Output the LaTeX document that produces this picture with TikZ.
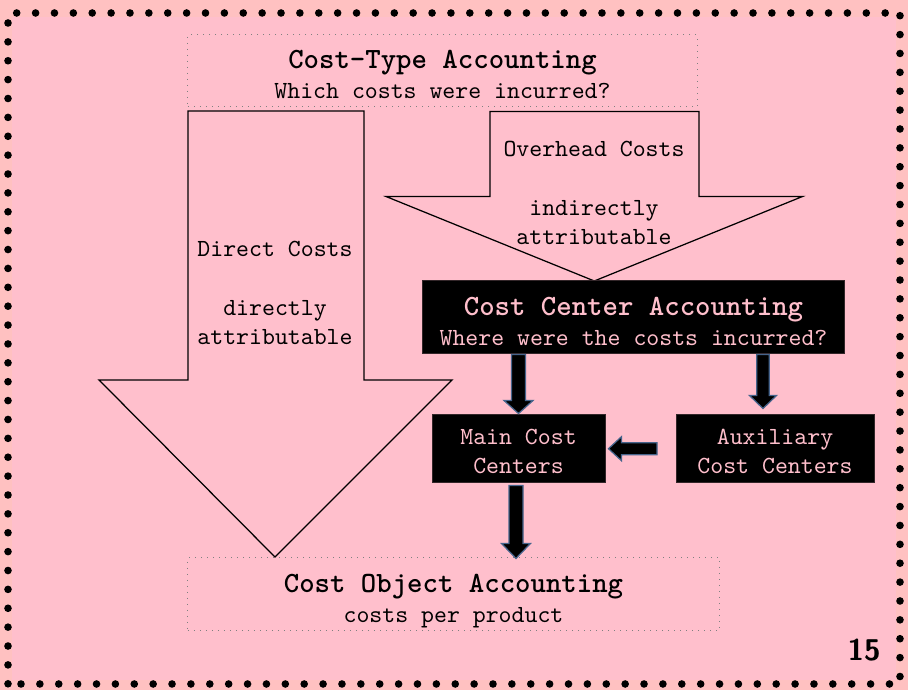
\documentclass[tikz,border=0pt]{standalone}
\usetikzlibrary{calc}
\definecolor{pagepink}{RGB}{255,191,204}
\definecolor{rimpink}{RGB}{255,193,193}
\definecolor{arrowrim}{RGB}{70,100,140}
\newcommand\titlefont{\fontsize{11.75}{14}\selectfont\bfseries}
\begin{document}
\begin{tikzpicture}[x=0.4pt,y=-0.4pt,
  txt/.style={font=\fontsize{9.85}{11.8}\selectfont\ttfamily, align=center, inner sep=0pt},
  dotbox/.style={draw=gray, dotted, line width=0.4pt, inner sep=0pt},
  blackbox/.style={fill=black, draw=black!80!pagepink, line width=0.4pt, inner sep=0pt},
  hollow/.style={draw=black, line width=0.5pt, line join=miter},
  blk/.style={fill=black, draw=arrowrim, line width=0.5pt, line join=miter}]
  % page and dotted frame
  \useasboundingbox (0,0) rectangle (908,690);
  \fill[rimpink] (0,0) rectangle (908,690);
  \fill[pagepink] (12,17) rectangle (896,680);
  \foreach \k in {0,...,46} {
    \fill (16.7+18.88*\k,13) circle[radius=3.8];
    \fill (21+18.88*\k,684) circle[radius=3.8];
  }
  \foreach \k in {0,...,35} {
    \fill (900,15.7+18.88*\k) circle[radius=3.8];
    \fill (8,23+18.88*\k) circle[radius=3.8];
  }

  % outline arrows (direct / overhead costs)
  \draw[hollow] (188,111) -- (364,111) -- (364,380) -- (452,380) -- (275,557)
    -- (99,380) -- (188,380) -- cycle;
  \draw[hollow] (490,111.5) -- (699,111.5) -- (699,196.5) -- (802.5,196.5) -- (594.3,281)
    -- (386,196.5) -- (490,196.5) -- cycle;
  \node[txt] (direct) at (275,293) {Direct Costs\\[11.8pt]directly\\attributable};
  \node[txt] (overhead) at (594,193) {Overhead Costs\\[11.8pt]indirectly\\attributable};

  % accounting stages
  \node[dotbox, minimum width=203.6pt, minimum height=28.8pt] (ctype) at (442.5,71) {};
  \node[dotbox, minimum width=212.4pt, minimum height=29.4pt] (cobj) at (453.5,594.2) {};
  \node[blackbox, minimum width=168.4pt, minimum height=29.2pt] (ccenter) at (633.5,317.5) {};
  \node[blackbox, minimum width=69.2pt, minimum height=27pt] (main) at (518.5,448.7) {};
  \node[blackbox, minimum width=79.2pt, minimum height=27pt] (aux) at (775,448.7) {};

  \node[txt] (ctypetext) at ($(ctype.center)+(0,3.5)$)
    {{\titlefont Cost-Type Accounting}\\Which costs were incurred?};
  \node[txt] (cobjtext) at ($(cobj.center)+(0,7)$)
    {{\titlefont Cost Object Accounting}\\costs per product};
  \node[txt, text=pagepink] (ccentertext) at ($(ccenter.center)+(0,4)$)
    {{\titlefont Cost Center Accounting}\\Where were the costs incurred?};
  \node[txt, text=pagepink] (maintext) at ($(main.center)+(0,3)$) {Main Cost\\Centers};
  \node[txt, text=pagepink] (auxtext) at ($(aux.center)+(0,3)$) {Auxiliary\\Cost Centers};

  % block arrows between the stages
  \coordinate (a1) at (ccenter.south -| main.center);
  \draw[blk] ($(a1)+(-7,0)$) -- ($(a1)+(-7,46)$) -- ($(a1)+(-14.5,46)$) -- ($(a1)+(0,59)$)
    -- ($(a1)+(14.5,46)$) -- ($(a1)+(7,46)$) -- ($(a1)+(7,0)$) -- cycle;
  \coordinate (a2) at ($(ccenter.south)+(129.5,0)$);
  \draw[blk] ($(a2)+(-6.3,0)$) -- ($(a2)+(-6.3,41)$) -- ($(a2)+(-13.5,41)$) -- ($(a2)+(0,54)$)
    -- ($(a2)+(13.5,41)$) -- ($(a2)+(6.3,41)$) -- ($(a2)+(6.3,0)$) -- cycle;
  \coordinate (a3) at ($(aux.west)+(-18.5,0)$);
  \draw[blk] ($(a3)+(0,-6)$) -- ($(a3)+(-35.5,-6)$) -- ($(a3)+(-35.5,-12)$) -- ($(a3)+(-48.5,0)$)
    -- ($(a3)+(-35.5,12)$) -- ($(a3)+(-35.5,6)$) -- ($(a3)+(0,6)$) -- cycle;
  \coordinate (a4) at ($(main.south)+(-2.5,2.5)$);
  \draw[blk] ($(a4)+(-7,0)$) -- ($(a4)+(-7,58)$) -- ($(a4)+(-14.5,58)$) -- ($(a4)+(0,73)$)
    -- ($(a4)+(14.5,58)$) -- ($(a4)+(7,58)$) -- ($(a4)+(7,0)$) -- cycle;

  % page number
  \node[font=\fontsize{12}{14}\selectfont\sffamily\bfseries, inner sep=0pt] (pnum) at (864,650) {15};
\end{tikzpicture}
\end{document}
